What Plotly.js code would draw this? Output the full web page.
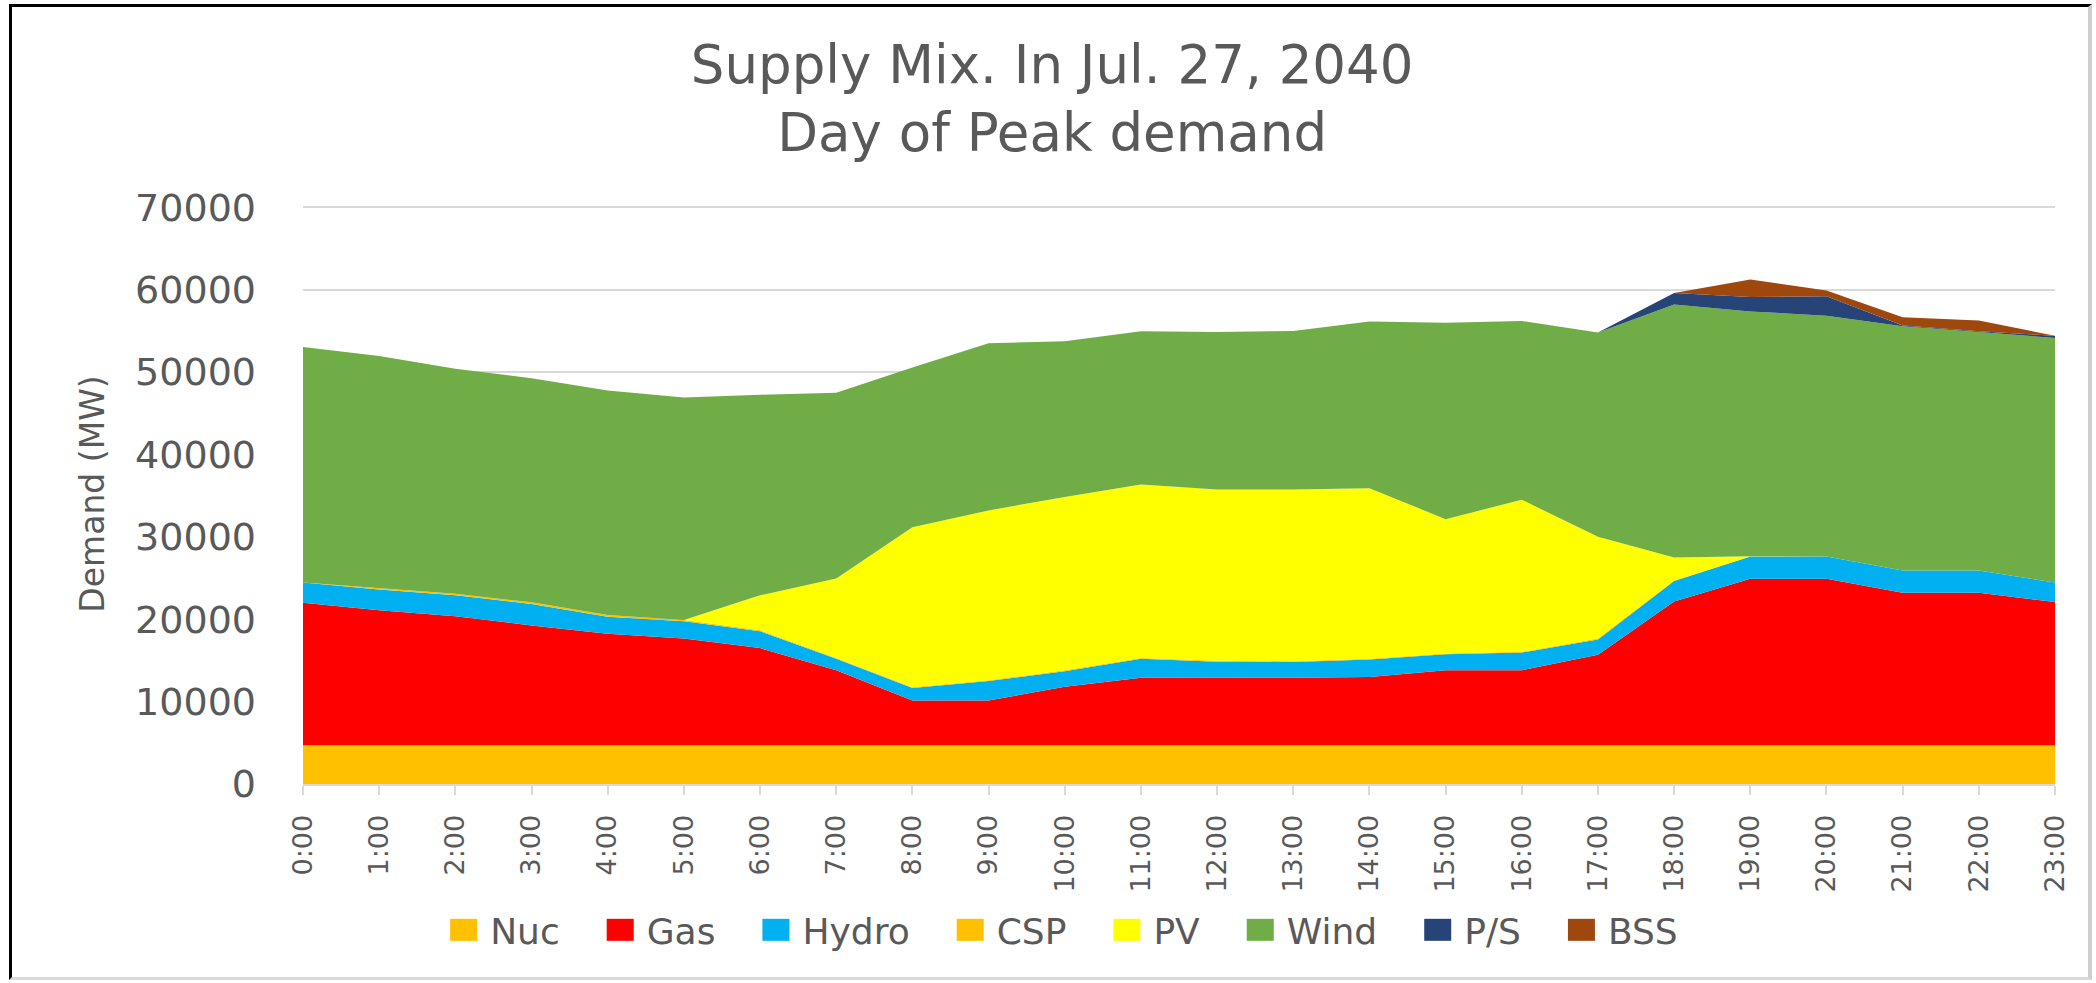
<!DOCTYPE html>
<html>
<head>
<meta charset="utf-8">
<script src="https://cdn.plot.ly/plotly-3.0.1.min.js"></script>
<style>
  html, body { margin: 0; padding: 0; background: #ffffff; }
  #chart { width: 2096px; height: 983px; }
  #frame {
    position: absolute; left: 9px; top: 4px; width: 2083px; height: 976px;
    border-top: 3px solid #000; border-left: 3px solid #000;
    border-right: 4px solid #cfcfcf; border-bottom: 3px solid #d9d9d9;
    pointer-events: none; box-sizing: border-box;
  }
</style>
</head>
<body>
<div id="chart"></div>
<div id="frame"></div>
<script>
const hours = ["0:00","1:00","2:00","3:00","4:00","5:00","6:00","7:00","8:00","9:00","10:00","11:00",
               "12:00","13:00","14:00","15:00","16:00","17:00","18:00","19:00","20:00","21:00","22:00","23:00"];

const nuc   = [4700,4700,4700,4700,4700,4700,4700,4700,4700,4700,4700,4700,4700,4700,4700,4700,4700,4700,4700,4700,4700,4700,4700,4700];
const gas   = [17300,16400,15650,14550,13550,12950,11800,9100,5450,5450,7100,8200,8200,8200,8300,9100,9100,11000,17450,20200,20200,18500,18500,17400];
const hydro = [2450,2500,2550,2600,2050,2100,2050,1400,1500,2350,1900,2300,1950,1900,2100,1950,2150,1850,2500,2700,2700,2700,2700,2350];
const csp   = [0,150,200,200,200,150,100,100,100,100,100,100,100,100,100,100,100,100,50,0,0,0,0,0];
const pv    = [0,0,0,0,0,0,4250,9650,19400,20600,21050,21050,20800,20850,20700,16300,18450,12350,2800,50,0,0,0,0];
const wind  = [28600,28200,27300,27200,27250,27000,24350,22550,19400,20300,18900,18600,19100,19250,20250,23850,21700,24800,30700,29700,29250,29650,28950,29700];
const ps    = [0,0,0,0,0,0,0,0,0,0,0,0,0,0,0,0,0,0,1400,1750,2350,100,100,250];
const bss   = [0,0,0,0,0,0,0,0,0,0,0,0,0,0,0,0,0,0,0,2150,700,1000,1300,0];

const yTicks = [0, 10000, 20000, 30000, 40000, 50000, 60000, 70000];

const seriesNames  = ["Nuc","Gas","Hydro","CSP","PV","Wind","P/S","BSS"];
const seriesValues = [nuc, gas, hydro, csp, pv, wind, ps, bss];
const seriesColors = ["#FFC000","#FF0000","#00B0F0","#FFC000","#FFFF00","#70AD47","#264478","#9E480E"];

const FONT = "DejaVu Sans";
const GREY = "#595959";

const traces = seriesNames.map((name, i) => ({
  type: "scatter",
  mode: "lines",
  name: name,
  x: hours,
  y: seriesValues[i],
  stackgroup: "one",
  line: { width: 0, color: seriesColors[i] },
  fillcolor: seriesColors[i],
  hoverinfo: "skip"
}));

const layout = {
  width: 2096,
  height: 983,
  paper_bgcolor: "rgba(0,0,0,0)",
  plot_bgcolor: "#ffffff",
  margin: { l: 303, r: 41, t: 204, b: 199 },
  title: {
    text: "Supply Mix. In Jul. 27, 2040<br>Day of Peak demand",
    font: { family: FONT, size: 53, color: GREY },
    xref: "container", x: 0.502, xanchor: "center",
    yref: "container", y: 0.916, yanchor: "top"
  },
  xaxis: {
    type: "category",
    range: [0, 23],
    tickangle: -90,
    tickfont: { family: FONT, size: 27, color: GREY },
    ticks: "outside", ticklen: 9, tickwidth: 2, tickcolor: "#d9d9d9",
    showline: true, linecolor: "#d9d9d9", linewidth: 2,
    showgrid: false, zeroline: false,
    ticklabelstandoff: 9,
    fixedrange: true
  },
  yaxis: {
    range: [0, 70400],
    tickvals: yTicks,
    tickformat: "d",
    tickfont: { family: FONT, size: 38, color: GREY },
    showgrid: true, gridcolor: "#d9d9d9", gridwidth: 2,
    zeroline: false, showline: false, ticks: "",
    ticklabelstandoff: 46,
    title: { text: "Demand (MW)", font: { family: FONT, size: 33, color: GREY }, standoff: 20 },
    fixedrange: true
  },
  showlegend: true,
  legend: {
    orientation: "h",
    traceorder: "normal",
    xref: "container", x: 0.5076, xanchor: "center",
    yref: "container", y: 0.054, yanchor: "middle",
    font: { family: FONT, size: 36, color: GREY },
    entrywidth: 125, entrywidthmode: "pixels",
    bgcolor: "rgba(0,0,0,0)"
  }
};

function parseT(el) {
  const t = el.getAttribute("transform") || "";
  const m = t.match(/translate\(\s*([-\d.eE]+)[ ,]+([-\d.eE]+)\s*\)/);
  return m ? [parseFloat(m[1]), parseFloat(m[2])] : [0, 0];
}

Plotly.newPlot("chart", traces, layout, { displayModeBar: false, staticPlot: true }).then(() => {
  const leg = document.querySelector(".legend");
  if (!leg) return;
  // square key glyphs like the reference
  leg.querySelectorAll(".traces .js-fill").forEach(p => p.setAttribute("d", "M0,-11h27v22h-27z"));
  // space entries according to their own text widths
  const items = Array.from(leg.querySelectorAll(".traces"));
  if (!items.length) return;
  const GAP = 47;
  const base = parseT(items[0]);
  let x = base[0];
  items.forEach(g => {
    const pos = parseT(g);
    g.setAttribute("transform", "translate(" + x + "," + pos[1] + ")");
    const txt = g.querySelector(".legendtext");
    const len = txt ? txt.getComputedTextLength() : 60;
    x += 40 + len + GAP;
  });
  const totalW = (x - GAP) - base[0];
  const lt = parseT(leg);
  const desiredCenter = 0.5076 * 2096;
  const shift = desiredCenter - (lt[0] + base[0] + totalW / 2);
  leg.setAttribute("transform", "translate(" + (lt[0] + shift) + "," + lt[1] + ")");
  leg.querySelectorAll("[clip-path]").forEach(e => e.removeAttribute("clip-path"));
});
</script>
</body>
</html>
